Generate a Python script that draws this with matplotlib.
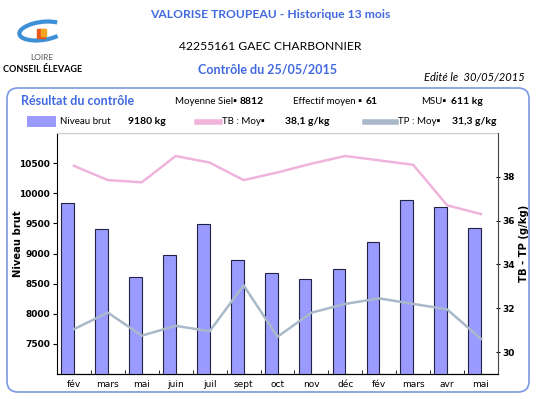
import numpy as np
import matplotlib
matplotlib.use("Agg")
import matplotlib.pyplot as plt
from matplotlib.patches import FancyBboxPatch, Rectangle, Arc
from matplotlib.lines import Line2D

# data
months = ["fév", "mars", "mai", "juin", "juil", "sept", "oct", "nov",
          "déc", "fév", "mars", "avr", "mai"]
niveau_brut = [9840, 9400, 8610, 8975, 9490, 8890, 8670, 8580,
               8735, 9195, 9885, 9780, 9425]
tb = [38.5, 37.85, 37.75, 38.95, 38.65, 37.85, 38.2, 38.6,
      38.95, 38.75, 38.55, 36.7, 36.3]
tp = [31.05, 31.8, 30.75, 31.2, 30.95, 33.05, 30.7, 31.8,
      32.2, 32.45, 32.2, 31.95, 30.6]

left_ticks = [7500, 8000, 8500, 9000, 9500, 10000, 10500]
right_ticks = [30, 32, 34, 36, 38]

blue = "#4169e1"
bar_col = "#9b9bff"
pink = "#f0b4dc"
tpcol = "#a9b9c9"
hfont = "Lato"

W, H = 538, 399
fig = plt.figure(figsize=(W / 100, H / 100), dpi=100)

def fx(x):
    return x / W

def fy(y):
    return 1 - y / H

# header
fig.text(fx(270), fy(15), "VALORISE TROUPEAU - Historique 13 mois", color=blue,
         fontsize=8.7, fontweight="bold", family=hfont, ha="center", va="center")
fig.text(fx(270), fy(46), "42255161 GAEC CHARBONNIER", color="black",
         fontsize=8.7, family=hfont, ha="center", va="center")
fig.text(fx(268), fy(69), "Contrôle du 25/05/2015", color=blue,
         fontsize=9, fontweight="bold", family=hfont, ha="center", va="center")
fig.text(fx(525), fy(78), "Edité le  30/05/2015", color="black",
         fontsize=8, style="italic", family=hfont, ha="right", va="center")

# logo
fig.patches.append(Arc((fx(42), fy(31)), fx(46), 18 / H, angle=12, theta1=25, theta2=325,
                       color="#3d8fd6", lw=3, transform=fig.transFigure))
fig.patches.append(Rectangle((fx(37), fy(38)), fx(8), 9 / H, color="#e8571e",
                             transform=fig.transFigure))
fig.patches.append(Rectangle((fx(41), fy(36)), fx(5), 7 / H, color="#f5a623",
                             transform=fig.transFigure))
fig.text(fx(42), fy(58), "LOIRE", color="#555555", fontsize=6, family=hfont,
         ha="center", va="center")
fig.text(fx(43), fy(69), "CONSEIL ÉLEVAGE", color="black", fontsize=6.5,
         fontweight="bold", family=hfont, ha="center", va="center")

# rounded frame
frame = FancyBboxPatch((fx(7), fy(392)), fx(522), (392 - 88) / H,
                       boxstyle="round,pad=0,rounding_size=0.02",
                       mutation_aspect=W / H,
                       transform=fig.transFigure, fill=False,
                       ec="#7a98e0", lw=1.2)
fig.patches.append(frame)

# info rows
fig.text(fx(21), fy(101), "Résultat du contrôle", color=blue, fontsize=9,
         fontweight="bold", family=hfont, va="center")
row1 = [(175, "Moyenne Siel\u25aa", False), (240, "8812", True),
        (293, "Effectif moyen \u25aa", False), (366, "61", True),
        (421, "MSU\u25aa", False), (451, "611 kg", True)]
for x, s, b in row1:
    fig.text(fx(x), fy(101), s, fontsize=7 if not b else 7.5, family=hfont,
             fontweight="bold" if b else "normal", va="center")

fig.patches.append(Rectangle((fx(27), fy(127)), fx(29), 11 / H, fc=bar_col,
                             ec="none", transform=fig.transFigure))
fig.lines.append(Line2D([fx(197), fx(220)], [fy(122), fy(122)], color=pink, lw=4,
                        transform=fig.transFigure))
fig.lines.append(Line2D([fx(365), fx(396)], [fy(122), fy(122)], color=tpcol, lw=4,
                        transform=fig.transFigure))
row2 = [(60, "Niveau brut", False), (128, "9180 kg", True),
        (222, "TB : Moy\u25aa", False), (285, "38,1 g/kg", True),
        (398, "TP : Moy\u25aa", False), (452, "31,3 g/kg", True)]
for x, s, b in row2:
    fig.text(fx(x), fy(122), s, fontsize=7 if not b else 7.5, family=hfont,
             fontweight="bold" if b else "normal", va="center")

# chart
ax = fig.add_axes([fx(57), fy(374), fx(441), (374 - 133) / H])
x = np.arange(len(months))
ax.bar(x, niveau_brut, width=-0.375, align="edge", color=bar_col,
       edgecolor="#222244", lw=0.8, zorder=3)
ax.set_ylim(7000, 11000)
ax.set_xlim(-0.5, len(months) - 0.5)
ax.set_yticks(left_ticks)
ax.set_yticks(np.arange(7000, 11001, 500), minor=True)
ax.grid(axis="y", which="minor", color="#dddddd", lw=1, zorder=0)
ax.set_xticks(x)
ax.set_xticklabels(months, fontsize=6.5)
ax.set_xticks(np.arange(-0.5, len(months), 1), minor=True)
ax.tick_params(axis="x", which="major", length=0, pad=4)
ax.tick_params(axis="x", which="minor", direction="in", length=3)
ax.tick_params(axis="y", which="major", labelsize=6.5, length=3, pad=2)
ax.tick_params(axis="y", which="minor", length=0)
for t in ax.get_yticklabels():
    t.set_fontweight("bold")
ax.set_ylabel("Niveau brut", fontsize=7.2, fontweight="bold")
ax.yaxis.set_label_coords((23 - 57) / 441, 0.54)
ax.spines["top"].set_color("#cccccc")
ax.spines["right"].set_visible(False)

ax2 = ax.twinx()
ax2.plot(x, tb, color=pink, lw=1.8, zorder=4)
ax2.plot(x, tp, color=tpcol, lw=1.8, zorder=4)
ax2.set_ylim(29, 40)
ax2.set_yticks(right_ticks)
ax2.tick_params(axis="y", labelsize=6.5, length=3, pad=2, direction="inout")
for t in ax2.get_yticklabels():
    t.set_fontweight("bold")
ax2.set_ylabel("TB - TP (g/kg)", fontsize=7.2, fontweight="bold")
ax2.yaxis.set_label_coords((519 - 57) / 441, 0.54)
ax2.spines["top"].set_visible(False)
ax2.spines["left"].set_visible(False)
ax2.spines["right"].set_color("#444444")

fig.savefig("out.png", dpi=100)
